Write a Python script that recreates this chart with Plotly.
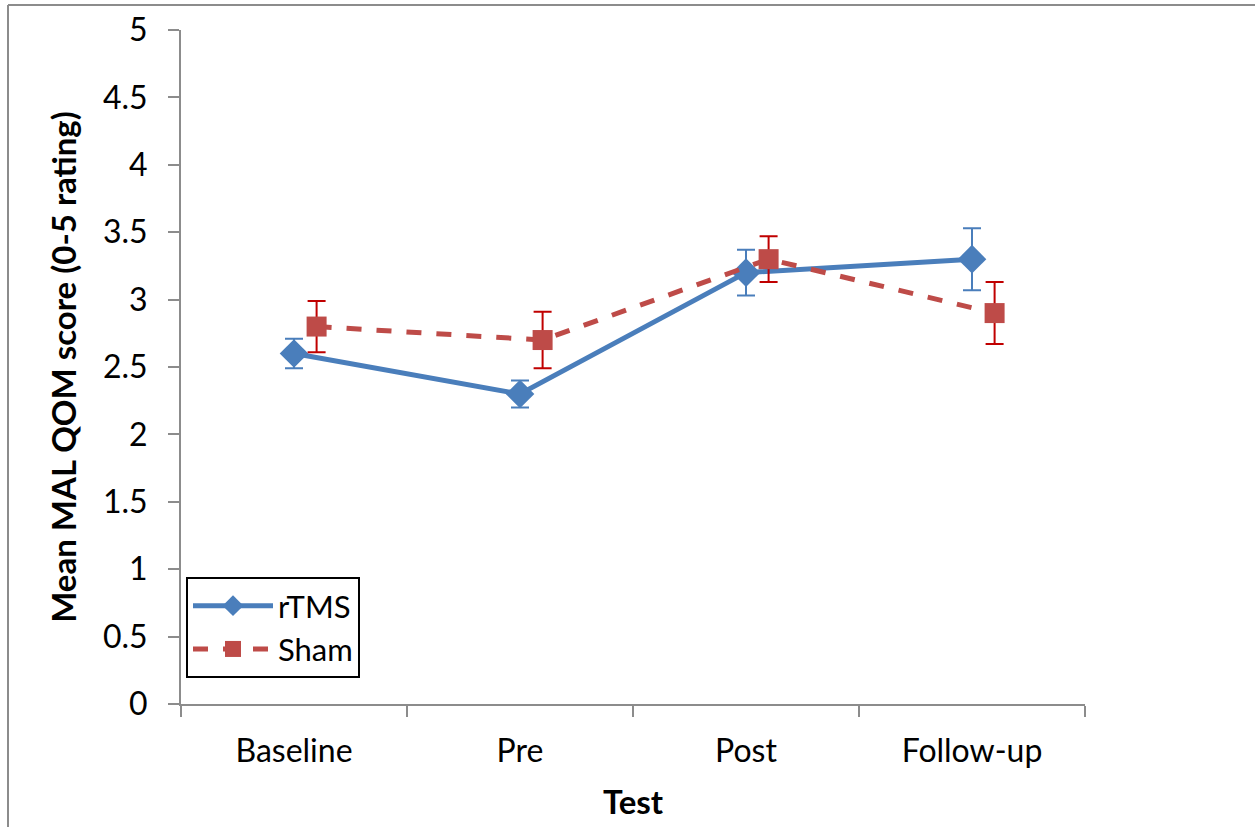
import plotly.graph_objects as go

categories = ["Baseline", "Pre", "Post", "Follow-up"]
rtms_mean = [2.6, 2.3, 3.2, 3.3]
rtms_err = [0.11, 0.10, 0.17, 0.23]
sham_mean = [2.8, 2.7, 3.3, 2.9]
sham_err = [0.19, 0.21, 0.17, 0.23]
y_ticks = [0, 0.5, 1, 1.5, 2, 2.5, 3, 3.5, 4, 4.5, 5]
y_ticktext = ["0", "0.5", "1", "1.5", "2", "2.5", "3", "3.5", "4", "4.5", "5"]

FONT = "Lato, 'Open Sans', sans-serif"
W, H = 1255, 827
L, R, T, B = 181, 170, 30, 123

x_idx = list(range(len(categories)))
sham_offset = 0.1
x_sham = [i + sham_offset for i in x_idx]

fig = go.Figure()
fig.add_trace(go.Scatter(
    x=x_idx, y=rtms_mean, name="rTMS", mode="lines+markers",
    line=dict(color="#4A7EBB", width=5),
    marker=dict(symbol="diamond", size=22, color="#4A7EBB"),
    error_y=dict(type="data", array=rtms_err, visible=True, color="#4A7EBB",
                 thickness=2, width=9),
))
fig.add_trace(go.Scatter(
    x=x_sham, y=sham_mean, name="Sham", mode="lines+markers",
    line=dict(color="#BE4B48", width=5, dash="dash"),
    marker=dict(symbol="square", size=20, color="#BE4B48"),
    error_y=dict(type="data", array=sham_err, visible=True, color="#C00000",
                 thickness=2, width=9),
))

pw = W - L - R
ph = H - T - B
def px_x(p):
    return (p - L) / pw
def px_y(p):
    return (H - B - p) / ph

fig.update_layout(
    width=W, height=H,
    margin=dict(l=L, r=R, t=T, b=B, autoexpand=False),
    paper_bgcolor="white", plot_bgcolor="white",
    font=dict(family=FONT, size=32, color="black"),
    showlegend=True,
    legend=dict(x=px_x(186), y=px_y(577), xanchor="left", yanchor="top",
                bordercolor="black", borderwidth=2, bgcolor="white",
                font=dict(size=31), itemwidth=80, tracegroupgap=0),
    xaxis=dict(range=[-0.5, 3.5], tickmode="array", tickvals=x_idx,
               ticktext=categories, ticks="", showgrid=False, zeroline=False,
               showline=True, linecolor="#8C8C8C", linewidth=2,
               ticklabelstandoff=18,
               minor=dict(tickmode="linear", tick0=-0.5, dtick=1, ticks="outside",
                          ticklen=11, tickcolor="#8C8C8C", tickwidth=2, showgrid=False),
               title=dict(text="<b>Test</b>", font=dict(size=33), standoff=22)),
    yaxis=dict(range=[0, 5], tickmode="array", tickvals=y_ticks, ticktext=y_ticktext,
               ticks="outside", ticklen=11, tickcolor="#8C8C8C", tickwidth=2,
               showgrid=False, zeroline=False, showline=True, linecolor="#8C8C8C",
               linewidth=2, ticklabelstandoff=14,
               title=dict(text="<b>Mean MAL QOM score (0-5 rating)</b>",
                          font=dict(size=33), standoff=16)),
    shapes=[
        dict(type="line", xref="paper", yref="paper", x0=px_x(8), x1=px_x(8),
             y0=px_y(5), y1=px_y(830), line=dict(color="#8C8C8C", width=2)),
        dict(type="line", xref="paper", yref="paper", x0=px_x(8), x1=px_x(1260),
             y0=px_y(5), y1=px_y(5), line=dict(color="#8C8C8C", width=2)),
    ],
)

fig.write_html("out.html")
